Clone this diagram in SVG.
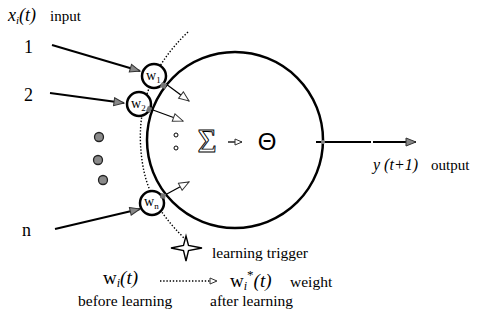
<svg xmlns="http://www.w3.org/2000/svg" width="485" height="322" viewBox="0 0 485 322">
<style>
text{font-family:"Liberation Serif","Times New Roman",serif;fill:#000}
.it{font-style:italic}
.thick{fill:none;stroke:#000;stroke-width:2.5}
.ln{fill:none;stroke:#000;stroke-width:2}
.thin{fill:none;stroke:#000;stroke-width:1.3}
.wc{fill:#fff;stroke:#000;stroke-width:2.5}
.dot{fill:none;stroke:#000;stroke-width:1.4;stroke-dasharray:1.4 1.8}
.gdot{fill:#8a8a8a;stroke:#222;stroke-width:1.3}
.patch{fill:#777}
</style>
<defs>
<marker id="ga" markerWidth="12" markerHeight="10" refX="11" refY="5" orient="auto" markerUnits="userSpaceOnUse">
<path d="M1,1 L11,5 L1,9 Z" fill="#888" stroke="#333" stroke-width="1"/>
</marker>
<marker id="wa" markerWidth="12" markerHeight="10" refX="11" refY="5" orient="auto" markerUnits="userSpaceOnUse">
<path d="M1,1 L11,5 L1,9 Z" fill="#fff" stroke="#333" stroke-width="1"/>
</marker>
<marker id="sa" markerWidth="9" markerHeight="8" refX="8" refY="4" orient="auto" markerUnits="userSpaceOnUse">
<path d="M1,1 L8,4 L1,7 Z" fill="#fff" stroke="#333" stroke-width="1"/>
</marker>
</defs>

<g id="connectors">
<path class="dot" d="M188,32 C150,68 135,110 142,160 C146,190 158,212 184,238"/>
<line class="ln" x1="52" y1="45" x2="140" y2="71" marker-end="url(#ga)"/>
<line class="ln" x1="50" y1="93" x2="124" y2="103" marker-end="url(#ga)"/>
<line class="ln" x1="55" y1="229" x2="140" y2="209" marker-end="url(#ga)"/>
<line class="thin" x1="166" y1="84" x2="189" y2="101" marker-end="url(#wa)"/>
<line class="thin" x1="153" y1="110" x2="183" y2="121" marker-end="url(#wa)"/>
<line class="thin" x1="165" y1="195" x2="189" y2="182" marker-end="url(#wa)"/>
<line class="thin" x1="228" y1="142" x2="242" y2="142" marker-end="url(#sa)"/>
<line class="ln" x1="316" y1="142" x2="371" y2="142"/>
<line class="ln" x1="373" y1="142" x2="416" y2="142" marker-end="url(#ga)"/>
<line class="dot" x1="160" y1="281" x2="217" y2="281" marker-end="url(#sa)"/>
</g>

<g id="neuron">
<circle class="thick" cx="235" cy="140" r="88"/>
<circle cx="323" cy="142" r="2" fill="#888"/>
<circle cx="176" cy="135" r="2" fill="#fff" stroke="#000" stroke-width="1"/>
<circle cx="176" cy="148" r="2" fill="#fff" stroke="#000" stroke-width="1"/>
<text x="207" y="152" font-size="33" text-anchor="middle" style="fill:#fff;stroke:#000;stroke-width:0.9">Σ</text>
<text x="267" y="150" font-size="24" text-anchor="middle" style="font-family:'Liberation Sans',Arial,sans-serif">Θ</text>
</g>

<g id="w1">
<circle class="wc" cx="154" cy="76" r="12"/>
<path class="patch" d="M162,82 L167,84 L165,89 L160,87 Z"/>
<text x="146" y="80" font-size="14">w<tspan font-size="9" dy="3">1</tspan></text>
</g>
<g id="w2">
<circle class="wc" cx="139" cy="104" r="12"/>
<path class="patch" d="M148,106 L152,108 L150,113 L146,111 Z"/>
<text x="131" y="108" font-size="14">w<tspan font-size="9" dy="3">2</tspan></text>
</g>
<g id="wn">
<circle class="wc" cx="152" cy="203" r="12"/>
<path class="patch" d="M161,193 L166,194 L165,199 L160,198 Z"/>
<text x="144" y="206" font-size="14">w<tspan font-size="9" dy="3">n</tspan></text>
</g>

<g id="dots">
<circle class="gdot" cx="99" cy="137" r="4.5"/>
<circle class="gdot" cx="98" cy="160" r="4.5"/>
<circle class="gdot" cx="103" cy="180" r="4.5"/>
</g>

<g id="star">
<path d="M186,236 L188.5,245.5 L202,248 L188.5,250.5 L186,261 L183.5,250.5 L171,248 L183.5,245.5 Z" fill="#fff" stroke="#000" stroke-width="1.4" stroke-linejoin="miter"/>
</g>

<g id="labels">
<text x="8" y="21" font-size="18" class="it">x<tspan font-size="11" dy="3">i</tspan><tspan dy="-3">(t)</tspan></text>
<text x="50" y="21" font-size="15">input</text>
<text x="24" y="53" font-size="18">1</text>
<text x="24" y="101" font-size="18">2</text>
<text x="22" y="236" font-size="18">n</text>
<text x="373" y="170" font-size="16" class="it">y (t+1)</text>
<text x="431" y="170" font-size="15">output</text>
<text x="212" y="258" font-size="15.5">learning trigger</text>
<text x="103" y="284" font-size="19">w<tspan font-size="12" dy="3" class="it">i</tspan><tspan dy="-3" class="it">(t)</tspan></text>
<text x="230" y="287" font-size="19">w<tspan font-size="12" dy="3" class="it">i</tspan><tspan dy="-11" font-size="13">*</tspan><tspan dy="8" class="it">(t)</tspan></text>
<text x="290" y="287" font-size="15.5">weight</text>
<text x="78" y="306" font-size="15.5">before learning</text>
<text x="210" y="306" font-size="15.5">after learning</text>
</g>
</svg>
